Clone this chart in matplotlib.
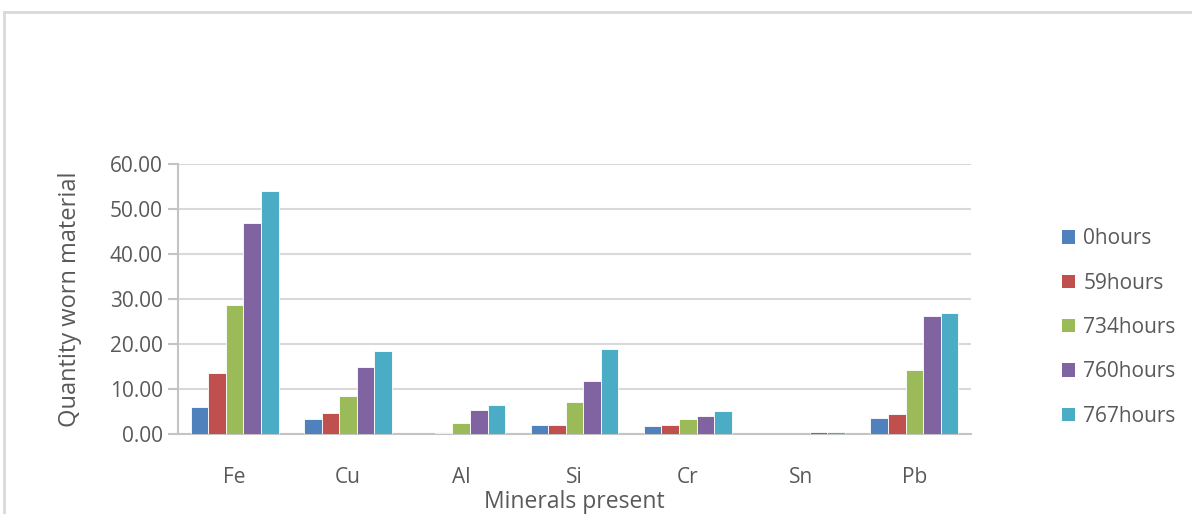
import matplotlib
matplotlib.use("Agg")
import matplotlib.pyplot as plt
from matplotlib.lines import Line2D
from matplotlib.patches import Patch
import numpy as np

minerals = ["Fe", "Cu", "Al", "Si", "Cr", "Sn", "Pb"]
series_names = ["0hours", "59hours", "734hours", "760hours", "767hours"]
h0 = [6.1, 3.4, 0.0, 2.1, 1.7, 0.1, 3.6]
h59 = [13.5, 4.7, 0.2, 2.1, 2.1, 0.1, 4.5]
h734 = [28.6, 8.4, 2.5, 7.2, 3.3, 0.1, 14.3]
h760 = [47.0, 14.8, 5.3, 11.7, 4.1, 0.4, 26.3]
h767 = [54.0, 18.4, 6.5, 18.8, 5.2, 0.4, 27.0]
colors = ["#4F81BD", "#C0504D", "#9BBB59", "#8064A2", "#4BACC6"]
yticks = [0, 10, 20, 30, 40, 50, 60]

plt.rcParams["font.family"] = ["Open Sans", "DejaVu Sans"]
text_color = "#595959"

W, H = 1192, 514
fig = plt.figure(figsize=(W / 100, H / 100), dpi=100)
left, right, top, bottom = 178, 971, 164, 434
ax = fig.add_axes([left / W, 1 - bottom / H, (right - left) / W, (bottom - top) / H])

x = np.arange(len(minerals))
bar_w = 0.155
all_series = [h0, h59, h734, h760, h767]
for i, (vals, col) in enumerate(zip(all_series, colors)):
    offs = (i - 2) * bar_w
    ax.bar(x + offs, vals, width=bar_w, color=col, edgecolor="white",
           linewidth=0.6, zorder=3)

ax.set_xlim(-0.5, len(minerals) - 0.5)
ax.set_ylim(0, 60)
ax.set_yticks(yticks)
ax.set_yticklabels([f"{v:.2f}" for v in yticks])
ax.set_xticks(x)
ax.set_xticklabels(minerals)
ax.yaxis.grid(True, color="#d9d9d9", linewidth=1.5, zorder=0)
ax.set_axisbelow(True)

for side in ["top", "right"]:
    ax.spines[side].set_visible(False)
for side in ["left", "bottom"]:
    ax.spines[side].set_color("#c4c4c4")
    ax.spines[side].set_linewidth(1.5)

ax.tick_params(axis="y", length=7, width=1.5, color="#c4c4c4",
               labelsize=15, labelcolor=text_color, pad=4)
ax.tick_params(axis="x", length=0, labelsize=15, labelcolor=text_color, pad=24)

ax.set_ylabel("Quantity worn material", fontsize=17, color=text_color, labelpad=20)
ax.set_xlabel("Minerals present", fontsize=16.5, color=text_color, labelpad=1)

handles = [Patch(facecolor=c, edgecolor="none") for c in colors]
leg = fig.legend(handles, series_names, loc="upper left",
                 bbox_to_anchor=(1052 / W, 1 - 218 / H), frameon=False,
                 fontsize=15, labelspacing=1.12, handlelength=0.6,
                 handleheight=0.6, handletextpad=0.4, borderpad=0)
for t in leg.get_texts():
    t.set_color(text_color)

# outer chart frame
fig.add_artist(Line2D([4 / W, 4 / W], [0, 1 - 12 / H],
                      transform=fig.transFigure, color="#d9d9d9", linewidth=2))
fig.add_artist(Line2D([4 / W, 1], [1 - 12 / H, 1 - 12 / H],
                      transform=fig.transFigure, color="#d9d9d9", linewidth=2))

fig.savefig("out.png", dpi=100, facecolor="white")
